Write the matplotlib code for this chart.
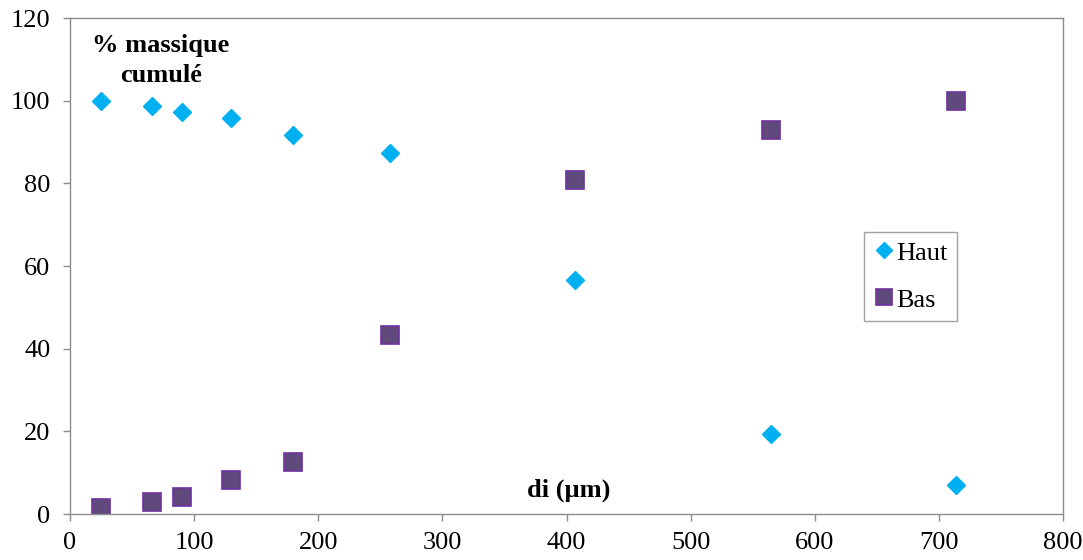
import matplotlib
matplotlib.use("Agg")
import matplotlib.pyplot as plt

# diamètres (µm) et % massique cumulé
di = [25, 66, 90, 130, 180, 258, 407, 565, 714]
haut = [100, 98.6, 97.2, 95.9, 91.7, 87.4, 56.6, 19.3, 7.0]
bas = [1.4, 2.8, 4.1, 8.2, 12.6, 43.4, 80.7, 93.0, 100]

x_ticks = list(range(0, 801, 100))
y_ticks = list(range(0, 121, 20))

plt.rcParams["font.family"] = ["Liberation Serif", "DejaVu Serif"]

GREY = "#8c8c8c"

fig = plt.figure(figsize=(10.83, 5.6), dpi=100)
ax = fig.add_axes([0.0646, 0.0821, 0.917, 0.8857])

ax.plot(di, haut, linestyle="none", marker="D", markersize=9.5,
        color="#00b0f0", markeredgecolor="#00b0f0", label="Haut")
ax.plot(di, bas, linestyle="none", marker="s", markersize=13.5,
        color="#604a7b", markeredgecolor="#7030a0", markeredgewidth=1.2,
        label="Bas")

ax.set_xlim(0, 800)
ax.set_ylim(0, 120)
ax.set_xticks(x_ticks)
ax.set_yticks(y_ticks)
ax.tick_params(direction="out", length=5, width=1, color=GREY,
               labelsize=19)
ax.tick_params(axis="x", pad=8)
ax.tick_params(axis="y", pad=9)
for sp in ax.spines.values():
    sp.set_color(GREY)
    sp.set_linewidth(1)

ax.text(73, 109.7, "% massique\ncumulé", fontsize=19, fontweight="bold",
        ha="center", va="center", linespacing=1.35)
ax.text(402, 5.8, "di (µm)", fontsize=19, fontweight="bold",
        ha="center", va="center")

leg = ax.legend(loc="upper left", bbox_to_anchor=(0.8, 0.569),
                borderaxespad=0, fancybox=False, fontsize=19,
                handletextpad=0.05, handlelength=0.8, labelspacing=0.9,
                borderpad=0.35, markerscale=0.9)
leg.get_frame().set_edgecolor(GREY)
leg.get_frame().set_linewidth(1)

fig.savefig("out.png", dpi=100)
